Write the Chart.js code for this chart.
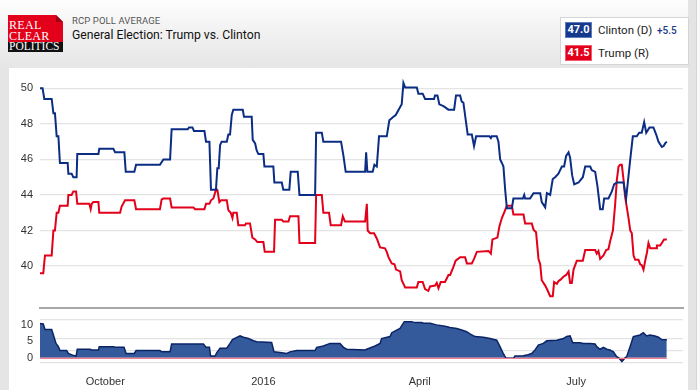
<!DOCTYPE html>
<html><head><meta charset="utf-8">
<script src="https://cdn.jsdelivr.net/npm/chart.js@4.4.1/dist/chart.umd.min.js"></script>
<style>
html,body{margin:0;padding:0;width:700px;height:390px;overflow:hidden;background:#fafafa;font-family:Roboto,"Liberation Sans",sans-serif;}
#wrap{position:relative;width:700px;height:390px;}
#header{position:absolute;left:0;top:0;width:696px;height:68px;background:linear-gradient(#fefefe 0%,#f3f3f3 40%,#e6e6e6 100%);}
#leftStrip{position:absolute;left:0;top:68px;width:9px;height:322px;background:#e5e5e5;}
#rightStrip{position:absolute;left:688px;top:0;width:8px;height:390px;background:#e4e4e4;border-right:1px solid #d6d6d6;}
#panel{position:absolute;left:9px;top:68px;width:679px;height:322px;background:#fff;}
canvas{position:absolute;left:0;top:0;}
.logoRed{position:absolute;left:8px;top:15px;width:55px;height:27px;background:#e2001a;clip-path:polygon(0 0,calc(100% - 7px) 0,100% 7px,100% 100%,0 100%);}
.fold{position:absolute;left:56px;top:15px;width:7px;height:7px;background:#9c0012;clip-path:polygon(0 0,100% 100%,0 100%);}
.logoBlack{position:absolute;left:8px;top:42px;width:55px;height:10px;background:#111;}
.lt{position:absolute;font-family:"Liberation Serif","DejaVu Serif",serif;color:#fff;line-height:1;white-space:nowrap;}
.sub{position:absolute;left:72px;top:16px;font-size:9.5px;line-height:9.5px;color:#555;letter-spacing:0.1px;}
.title{position:absolute;left:72px;top:29px;font-size:12.2px;line-height:12px;color:#111;}
#legend{position:absolute;left:560px;top:17px;width:127px;height:46px;background:#fff;border:1px solid #d5d5d5;}
.badge{position:absolute;width:25px;height:14px;color:#fff;font-weight:bold;font-size:11px;line-height:14px;text-align:center;}
.lgt{position:absolute;font-size:11.5px;line-height:12px;color:#222;white-space:nowrap;}
</style>
</head>
<body>
<div id="wrap">
  <div id="header"></div>
  <div id="leftStrip"></div>
  <div id="rightStrip"></div>
  <div id="panel"></div>
  <div class="logoRed"></div>
  <div class="fold"></div>
  <div class="logoBlack"></div>
  <div class="lt" style="left:9px;top:19px;font-size:12px;letter-spacing:0.3px;">REAL</div>
  <div class="lt" style="left:9px;top:30px;font-size:12px;letter-spacing:0.2px;">CLEAR</div>
  <div class="lt" style="left:9px;top:41px;font-size:11.5px;letter-spacing:0px;">POLITICS</div>
  <div class="sub">RCP POLL AVERAGE</div>
  <div class="title">General Election: Trump vs. Clinton</div>
  <div id="legend">
    <div class="badge" style="left:4px;top:4px;background:#15398c;border:1px solid #5c7cbc;">47.0</div>
    <div class="lgt" style="left:37px;top:6px;">Clinton (D)</div>
    <div class="lgt" style="left:96px;top:7px;font-size:10px;color:#1b3a8a;font-weight:500;">+5.5</div>
    <div class="badge" style="left:4px;top:27px;background:#e2001a;border:1px solid #f05a6a;">41.5</div>
    <div class="lgt" style="left:37px;top:29px;">Trump (R)</div>
  </div>
  <canvas id="main" width="700" height="390"></canvas>
  <canvas id="nav" width="700" height="390"></canvas>
</div>
<script>
// ---- data (x = days since 24 Aug 2015) ----
const clintonDays = [0,1.5,2.5,6.8,7.8,8.7,9.7,10.7,11.6,16.1,16.5,18.4,19.4,21.3,21.7,34.0,34.5,42.7,43.7,49.1,49.9,54.9,55.9,69.8,71.8,75.7,76.6,86.0,86.7,88.7,89.6,95.7,96.6,98.6,99.5,102.4,103.2,104.0,104.8,105.7,108.7,109.6,110.6,111.6,112.5,118.0,118.7,123.2,123.8,125.2,126.1,127.1,130.0,130.6,135.8,136.4,140.7,141.6,145.1,145.9,150.0,151.0,160.1,160.7,164.0,164.9,175.2,176.6,177.9,189.2,189.8,190.5,193.6,194.6,196.0,197.3,201.8,203.3,205.7,207.0,210.5,211.5,212.5,219.3,220.2,222.7,224.1,229.3,229.9,231.3,232.4,234.8,237.7,241.0,242.1,244.5,245.4,246.4,248.9,251.3,252.6,253.8,261.6,262.4,262.9,265.8,266.8,267.8,268.8,269.7,270.7,271.7,274.6,275.5,281.0,281.8,282.3,285.2,287.2,291.1,292.0,294.0,295.0,296.9,298.4,299.8,301.7,302.7,303.7,305.0,306.2,307.6,308.5,309.7,310.9,313.4,315.9,317.3,320.2,321.1,323.1,324.4,326.0,327.5,328.3,330.8,332.8,334.1,335.7,339.6,341.1,343.5,345.0,347.3,348.7,350.2,351.6,352.8,354.7,357.0,358.6,359.9,361.9,362.9,363.8,364.8];
const clintonValues = [50.0,50.0,49.4,49.4,48.6,48.6,47.3,47.3,45.8,45.8,45.2,45.2,45.0,45.0,46.3,46.3,46.6,46.6,46.4,46.4,45.3,45.3,45.7,45.7,46.0,46.0,47.7,47.7,47.8,47.8,47.6,47.6,47.0,47.0,44.3,44.3,45.5,45.5,46.8,47.0,47.0,47.4,47.4,48.5,48.8,48.8,48.4,48.4,47.1,46.9,46.5,46.3,46.3,45.6,45.6,44.7,44.7,44.3,44.3,45.3,45.3,44.0,44.0,47.5,47.5,47.0,47.0,46.2,45.3,45.3,46.4,45.3,45.3,45.7,45.6,47.3,47.3,48.2,48.4,48.5,49.1,50.3,50.05,50.05,49.7,49.7,49.4,49.4,49.6,49.6,49.1,49.0,48.8,48.8,49.6,49.6,49.25,49.2,47.4,47.4,46.75,47.3,47.3,47.2,47.3,47.3,47.0,46.0,45.8,45.6,44.3,43.25,43.25,43.8,43.8,44.0,43.8,43.8,44.1,44.1,43.6,43.3,44.1,44.0,44.9,45.0,45.2,45.4,45.6,45.6,46.2,46.4,46.1,45.1,44.6,44.7,45.0,45.6,45.6,45.4,45.3,44.5,43.2,43.2,43.8,43.8,44.2,44.6,44.7,44.7,43.8,46.0,47.3,47.3,47.5,47.5,48.1,47.5,47.8,47.8,47.4,47.0,46.7,46.75,46.9,47.0];
const trumpDays = [0,1.9,2.9,6.8,7.8,8.7,9.7,10.7,11.6,16.1,16.5,18.4,19.4,21.0,21.7,28.7,29.5,30.1,31.0,34.0,34.5,46.6,47.5,49.5,54.9,55.9,69.8,70.8,71.8,75.7,76.6,89.3,90.2,95.7,96.6,98.6,99.5,100.9,102.4,103.2,104.4,105.4,108.7,109.6,111.0,112.0,112.5,114.5,115.4,119.3,119.9,122.2,123.6,125.2,126.5,130.0,130.8,136.2,136.8,140.7,141.6,144.6,145.5,150.4,151.0,160.1,160.7,164.0,164.9,168.2,169.2,175.2,176.2,177.5,189.2,190.2,190.7,192.1,194.4,196.0,197.9,200.8,201.8,202.8,204.7,206.3,207.2,209.6,210.5,212.5,219.3,220.2,222.7,224.1,226.0,227.0,229.9,230.9,231.9,233.2,235.7,237.7,238.7,240.6,241.9,244.5,247.4,248.4,251.3,252.6,254.2,261.0,262.4,263.3,266.2,267.4,268.8,270.7,271.7,274.6,275.5,281.4,282.3,286.2,287.2,288.7,290.1,291.1,292.0,294.0,295.3,296.9,298.4,299.2,300.8,301.7,303.1,304.6,306.2,307.6,308.5,309.5,310.5,312.4,315.9,317.3,323.1,324.0,325.0,326.0,327.9,329.5,330.8,331.8,333.4,334.7,335.7,336.7,337.6,338.6,339.6,340.5,342.5,343.5,344.4,345.4,346.4,348.3,349.3,350.2,351.2,352.2,353.2,354.1,355.1,358.6,359.0,360.9,361.9,363.2,364.8];
const trumpValues = [39.6,39.6,40.6,40.6,42.0,42.0,43.0,43.0,43.4,43.4,44.0,44.0,44.2,44.2,43.5,43.5,43.2,43.5,43.6,43.6,43.0,43.0,43.35,43.7,43.7,43.2,43.2,43.75,43.8,43.8,43.3,43.3,43.2,43.2,43.5,43.5,43.7,43.8,44.3,44.3,43.6,43.7,43.7,43.15,43.0,42.7,43.0,43.0,42.3,42.3,42.4,42.4,41.6,41.5,41.35,41.35,40.8,40.8,42.6,42.6,42.5,42.5,42.8,42.8,41.3,41.3,44.0,44.0,43.0,43.0,42.3,42.3,42.8,42.5,42.5,43.5,42.0,41.85,41.85,41.55,41.05,41.0,40.8,40.5,40.15,40.1,39.8,39.7,39.2,38.8,38.8,39.1,39.1,38.7,38.6,38.85,38.9,39.05,38.75,39.1,39.1,39.5,39.5,39.95,40.3,40.5,40.5,40.15,40.15,40.4,40.8,40.85,40.7,41.5,41.6,42.25,42.7,43.15,43.4,43.4,42.9,42.9,42.4,42.4,42.05,41.9,40.4,40.1,39.2,38.9,38.65,38.3,38.3,39.1,39.0,39.15,39.25,39.4,39.5,39.7,39.05,39.05,39.8,40.3,40.3,40.9,40.9,40.7,40.85,40.4,40.6,40.9,40.95,41.4,42.0,43.45,44.85,45.6,45.7,45.7,44.85,43.9,42.7,42.0,41.85,40.6,40.35,40.35,40.1,40.05,39.8,40.3,40.75,41.3,41.0,41.0,41.15,41.15,41.3,41.5,41.5];
const spreadDays = [0,1.9,2.9,6.8,7.8,9.3,10.7,11.6,15.5,16.5,19.0,21.0,21.7,29.1,30.1,34.0,34.5,42.7,43.7,48.9,50.1,54.9,55.9,69.8,70.8,75.7,76.6,95.1,96.6,98.6,99.3,101.9,102.8,104.8,108.7,110.6,112.0,115.4,116.4,118.4,121.3,124.2,126.1,134.8,136.2,140.7,143.6,145.5,149.4,160.1,161.0,163.0,164.9,168.8,174.6,176.6,178.5,189.1,190.1,195.0,197.9,198.8,203.7,204.7,209.5,212.0,216.3,218.2,222.1,223.1,227.0,230.8,235.7,238.6,242.5,245.4,248.3,250.2,253.2,258.0,261.9,265.8,267.7,269.6,271.2,275.5,276.4,281.3,283.2,286.1,288.1,290.0,292.9,294.9,300.7,304.6,306.5,308.5,310.0,314.3,316.2,320.1,323.0,324.0,325.9,327.9,329.8,331.7,333.7,335.6,336.6,337.9,338.6,339.5,340.5,341.4,343.4,345.3,349.2,351.1,353.1,355.0,357.9,359.9,361.8,364.8];
const spreadValues = [10.5,10.4,8.7,8.7,7.0,4.4,3.4,2.2,2.2,1.3,0.8,0.5,2.6,2.6,2.4,2.4,3.4,3.4,3.2,3.2,1.3,1.3,2.2,2.2,1.8,1.8,4.2,4.2,3.2,3.2,0.5,0.5,1.5,2.9,2.9,4.4,5.6,6.5,6.7,6.3,5.9,5.2,4.9,4.7,1.8,1.5,1.3,1.8,2.2,2.2,3.2,3.4,3.6,4.4,4.4,3.2,2.6,2.4,2.6,3.6,4.4,5.9,6.5,7.7,9.0,11.1,11.1,10.8,10.8,10.6,10.6,10.1,9.7,9.3,9.0,8.5,8.0,7.3,6.5,6.3,5.9,5.4,3.4,1.3,-0.2,-0.2,0.5,0.6,0.8,1.3,2.4,3.9,4.4,5.2,5.4,5.9,6.5,6.7,4.6,4.6,4.4,4.4,4.2,3.4,2.6,3.2,2.6,2.4,1.8,0.3,0,-0.7,-1.2,-0.7,0,0.3,3.4,6.5,7.0,7.7,6.7,7.0,6.7,6.3,5.6,5.5];
const monthTickDays = [38, 130, 221, 312];
const monthTickLabels = ['October', '2016', 'April', 'July'];
const mainYTicks = [40, 42, 44, 46, 48, 50];
const navYTicks = [0, 5, 10];

// ---- styles ----
const BLUE = '#0b2d84', RED = '#e2001a';
const X_MIN = 0, X_MAX = 374.2;
Chart.defaults.font.family = '"Liberation Sans", Arial, sans-serif';
Chart.defaults.font.size = 11;
Chart.defaults.color = '#333';

const pts = (xs, ys) => xs.map((d, i) => ({x: d, y: ys[i]}));

new Chart(document.getElementById('main'), {
  type: 'line',
  data: {datasets: [
    {data: pts(clintonDays, clintonValues), borderColor: BLUE, borderWidth: 2, pointRadius: 0, tension: 0},
    {data: pts(trumpDays, trumpValues), borderColor: RED, borderWidth: 2, pointRadius: 0, tension: 0}
  ]},
  options: {
    responsive: false, animation: false, events: [],
    layout: {padding: {left: 0, right: 17, top: 75, bottom: 82}},
    plugins: {legend: {display: false}, tooltip: {enabled: false}},
    scales: {
      x: {type: 'linear', min: X_MIN, max: X_MAX,
          ticks: {display: false}, grid: {display: false, drawTicks: false},
          border: {display: true, color: '#a8a8a8', width: 2},
          afterFit: a => { a.height = 0; }},
      y: {min: 37.64, max: 50.75,
          afterBuildTicks: a => { a.ticks = mainYTicks.map(v => ({value: v})); },
          ticks: {padding: 7, color: '#333', font: {size: 11}},
          grid: {color: '#e4e4e4', lineWidth: 1.2, drawTicks: false},
          border: {display: false},
          afterFit: a => { a.width = 40; }}
    }
  }
});

const zeroLine = {
  id: 'zeroLine',
  afterDatasetsDraw(chart) {
    const {ctx, scales: {x, y}} = chart;
    const py = Math.round(y.getPixelForValue(0)) + 0.5;
    ctx.save();
    ctx.strokeStyle = '#ec7f93'; ctx.lineWidth = 1;
    ctx.beginPath();
    ctx.moveTo(x.getPixelForValue(spreadDays[0]), py);
    ctx.lineTo(x.getPixelForValue(spreadDays[spreadDays.length - 1]), py);
    ctx.stroke();
    ctx.restore();
  }
};

new Chart(document.getElementById('nav'), {
  type: 'line',
  data: {datasets: [
    {data: pts(spreadDays, spreadValues), borderColor: '#0b2466', borderWidth: 1.5, pointRadius: 0, tension: 0,
     fill: {target: {value: 0}, above: '#345a9b', below: '#e2001a'}}
  ]},
  plugins: [zeroLine],
  options: {
    responsive: false, animation: false, events: [],
    layout: {padding: {left: 0, right: 17, top: 320, bottom: 0}},
    plugins: {legend: {display: false}, tooltip: {enabled: false}},
    scales: {
      x: {type: 'linear', min: X_MIN, max: X_MAX,
          afterBuildTicks: a => { a.ticks = monthTickDays.map(v => ({value: v})); },
          ticks: {padding: 12, autoSkip: false, maxRotation: 0, color: '#333', font: {size: 11},
                  callback: (v, i) => monthTickLabels[i]},
          grid: {display: false, drawTicks: false},
          border: {display: false},
          afterFit: a => { a.height = 27; }},
      y: {min: -1.63, max: 11.6,
          afterBuildTicks: a => { a.ticks = navYTicks.map(v => ({value: v})); },
          ticks: {padding: 7, color: '#333', font: {size: 11}},
          grid: {display: false, drawTicks: false},
          border: {display: false},
          afterFit: a => { a.width = 40; }},
      yg: {position: 'right', min: -0.03, max: 3.62,
          ticks: {display: false, stepSize: 1},
          grid: {color: '#e4e4e4', lineWidth: 1.2, drawTicks: false},
          border: {display: false},
          afterFit: a => { a.width = 0; }}
    }
  }
});
</script>
</body></html>
